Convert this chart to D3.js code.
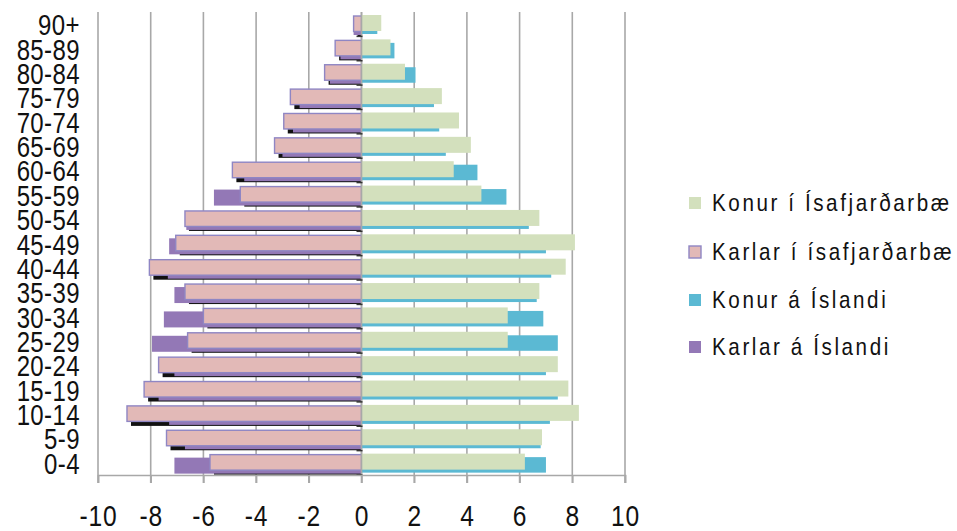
<!DOCTYPE html>
<html>
<head>
<meta charset="utf-8">
<script src="https://cdnjs.cloudflare.com/ajax/libs/d3/7.8.5/d3.min.js"></script>
<style>
body { margin: 0; background: #fff; }
svg text { font-family: "Liberation Sans", Arial, sans-serif; fill: #111; }
</style>
</head>
<body>
<div id="chart"></div>
<script>
// age groups, top to bottom
var ageGroups = ["90+","85-89","80-84","75-79","70-74","65-69","60-64","55-59","50-54","45-49",
                 "40-44","35-39","30-34","25-29","20-24","15-19","10-14","5-9","0-4"];

// % of population (men as negative)
var karlarIsafj = [-0.3,-1.0,-1.4,-2.7,-2.95,-3.3,-4.9,-4.6,-6.7,-7.05,-8.05,-6.7,-6.0,-6.6,-7.7,-8.25,-8.9,-7.4,-5.75];
var konurIsafj  = [0.75,1.1,1.65,3.05,3.7,4.15,3.5,4.55,6.75,8.1,7.75,6.75,5.55,5.55,7.45,7.85,8.25,6.85,6.2];
var karlarIsl   = [-0.3,-0.8,-1.2,-2.35,-2.6,-3.0,-4.45,-5.6,-6.65,-7.3,-7.35,-7.1,-7.5,-7.95,-7.1,-7.7,-7.3,-6.7,-7.1];
var konurIsl    = [0.6,1.25,2.05,2.75,2.95,3.2,4.4,5.5,6.35,7.0,7.2,6.65,6.9,7.45,7.0,7.45,7.15,6.8,7.0];

var xTicks = [-10,-8,-6,-4,-2,0,2,4,6,8,10];
var legendLabels = ["Konur í Ísafjarðarbæ","Karlar í ísafjarðarbæ","Konur á Íslandi","Karlar á Íslandi"];
var legendColors = ["#d3e0bd","#e2b9b7","#5bb9d3","#9378b6"];

var W = 957, H = 531;
var svg = d3.select("#chart").append("svg").attr("width", W).attr("height", H);

var x = d3.scaleLinear().domain([-10, 10]).range([98, 625]);
var y = d3.scaleBand().domain(ageGroups).range([12, 475]).paddingInner(0);
var bw = y.bandwidth();

// gridlines
svg.append("g").selectAll("line").data(xTicks).enter().append("line")
  .attr("x1", function(d){ return x(d); }).attr("x2", function(d){ return x(d); })
  .attr("y1", 12).attr("y2", 483)
  .attr("stroke", "#a8a8a8").attr("stroke-width", 1.6);

function rows(arr){ return arr.map(function(v, i){ return {age: ageGroups[i], v: v}; }); }

// shadow of Ísafjarðarbær men
svg.append("g").selectAll("rect").data(rows(karlarIsafj)).enter().append("rect")
  .attr("x", function(d){ return x(d.v) + 4; })
  .attr("width", function(d){ return Math.max(0, x(0) - x(d.v) - 4); })
  .attr("y", function(d){ return y(d.age) + 8; })
  .attr("height", 16)
  .attr("fill", "#111");

// Iceland bars (behind)
svg.append("g").selectAll("rect").data(rows(karlarIsl)).enter().append("rect")
  .attr("x", function(d){ return x(d.v); })
  .attr("width", function(d){ return x(0) - x(d.v); })
  .attr("y", function(d){ return y(d.age) + 7; })
  .attr("height", 16)
  .attr("fill", "#9378b6");

svg.append("g").selectAll("rect").data(rows(konurIsl)).enter().append("rect")
  .attr("x", x(0))
  .attr("width", function(d){ return x(d.v) - x(0); })
  .attr("y", function(d){ return y(d.age) + 6.5; })
  .attr("height", 15.5)
  .attr("fill", "#5bb9d3");

// Ísafjarðarbær bars (front)
svg.append("g").selectAll("rect").data(rows(karlarIsafj)).enter().append("rect")
  .attr("x", function(d){ return x(d.v); })
  .attr("width", function(d){ return x(0) - x(d.v); })
  .attr("y", function(d){ return y(d.age) + 4; })
  .attr("height", 15.5)
  .attr("fill", "#e2b9b7")
  .attr("stroke", "#8f86c4").attr("stroke-width", 1.4);

svg.append("g").selectAll("rect").data(rows(konurIsafj)).enter().append("rect")
  .attr("x", x(0))
  .attr("width", function(d){ return x(d.v) - x(0); })
  .attr("y", function(d){ return y(d.age) + 3; })
  .attr("height", 16)
  .attr("fill", "#d3e0bd");

// vertical category axis at zero
svg.append("line")
  .attr("x1", x(0)).attr("x2", x(0)).attr("y1", 12).attr("y2", 475)
  .attr("stroke", "#a8a8a8").attr("stroke-width", 1.6);
svg.append("g").selectAll("line").data(ageGroups).enter().append("line")
  .attr("x1", x(0) - 5).attr("x2", x(0) + 1)
  .attr("y1", function(d){ return y(d) + bw; }).attr("y2", function(d){ return y(d) + bw; })
  .attr("stroke", "#333").attr("stroke-width", 1.5);

// bottom axis
var xAxis = d3.axisBottom(x).tickValues(xTicks).tickSize(8).tickPadding(22)
  .tickFormat(function(d){ return String(d); });
var gx = svg.append("g").attr("transform", "translate(0,475)").call(xAxis);
gx.select(".domain").attr("stroke", "#a8a8a8").attr("stroke-width", 1.6);
gx.selectAll(".tick line").attr("stroke", "#a8a8a8").attr("stroke-width", 1.6);
gx.selectAll(".tick text")
  .style("font-family", "'Liberation Sans', sans-serif")
  .style("font-size", "30px").style("letter-spacing", "1px")
  .attr("transform", "scale(0.82,1)")
  .attr("fill", "#111");

// age labels (condensed)
svg.append("g").selectAll("text").data(ageGroups).enter().append("text")
  .attr("transform", function(d){ return "translate(80," + (y(d) + bw / 2 + 11) + ") scale(0.8,1)"; })
  .attr("text-anchor", "end")
  .style("font-size", "30px").style("letter-spacing", "0.5px")
  .text(function(d){ return d; });

// legend
var lg = svg.append("g").selectAll("g").data(legendLabels).enter().append("g")
  .attr("transform", function(d, i){ return "translate(689," + [203, 252, 300, 347][i] + ")"; });
lg.append("rect")
  .attr("x", 0).attr("y", -6).attr("width", 12).attr("height", 12)
  .attr("fill", function(d, i){ return legendColors[i]; })
  .attr("stroke", function(d, i){ return i === 1 ? "#8f86c4" : "none"; })
  .attr("stroke-width", 1.4);
lg.append("text")
  .attr("transform", "translate(23,8) scale(0.86,1)")
  .style("font-size", "24px").style("letter-spacing", "3px")
  .text(function(d){ return d; });
</script>
</body>
</html>
